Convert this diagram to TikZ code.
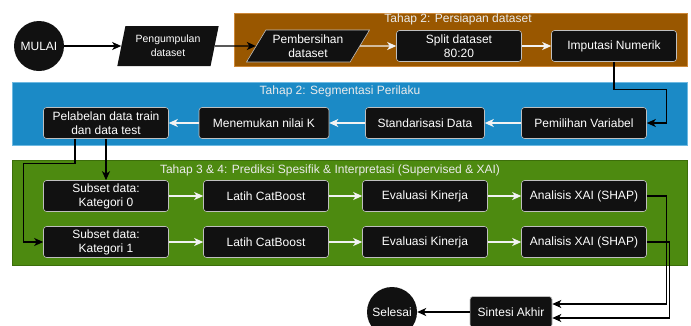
\documentclass[tikz,border=0pt]{standalone}
\usepackage{fontspec}
\setmainfont{Liberation Sans}
\usepackage{tikz}
\usetikzlibrary{arrows.meta,calc,positioning,shapes.geometric}
\definecolor{hitam}{RGB}{17,17,17}
\definecolor{coklat}{RGB}{153,87,0}
\definecolor{coklatgaris}{RGB}{205,135,55}
\definecolor{biru}{RGB}{27,138,198}
\definecolor{birugaris}{RGB}{110,185,225}
\definecolor{hijau}{RGB}{77,138,16}
\definecolor{hijaugaris}{RGB}{60,110,10}

\begin{document}
\begin{tikzpicture}[x=1pt,y=-1pt,
  proses/.style={draw=white!75!black, line width=0.6pt, fill=hitam, text=white,
    rounded corners=3pt, minimum width=125pt, minimum height=31pt, inner sep=2pt,
    align=center, font=\fontsize{12}{14}\selectfont},
  jajar/.style={trapezium, trapezium stretches=true, fill=hitam, text=white,
    align=center, inner sep=1pt},
  bulat/.style={circle, fill=hitam, text=white, minimum size=50pt, inner sep=0pt,
    font=\fontsize{12}{14}\selectfont},
  tahap/.style={text=white!92!black, font=\fontsize{12}{14}\selectfont},
  panah/.style={-{Stealth[length=9pt,width=8pt,inset=2.5pt]}, line width=1.3pt, draw=black},
  panahputih/.style={panah, draw=white!95!black}]
\pgfmathsetmacro{\lebar}{691}
\pgfmathsetmacro{\tinggi}{325}
\useasboundingbox (0,0) rectangle (\lebar,\tinggi);
\clip (0,0) rectangle (\lebar,\tinggi);

% latar tiap tahap
\draw[fill=coklat, draw=coklatgaris, line width=0.8pt] (234,13) rectangle (687,66);
\node[tahap] (judul1) at (458,19) {Tahap 2: Persiapan dataset};
\draw[fill=biru, draw=birugaris, line width=0.8pt] (12,82) rectangle (687,145);
\node[tahap] (judul2) at (340,91) {Tahap 2: Segmentasi Perilaku};
\draw[fill=hijau, draw=hijaugaris, line width=0.8pt] (12,160) rectangle (687,265);
\node[tahap] (judul3) at (330,170) {Tahap 3 \& 4: Prediksi Spesifik \& Interpretasi (Supervised \& XAI)};

% baris atas
\node[bulat] (mulai) at (39,46) {MULAI};
\node[jajar, trapezium left angle=75, trapezium right angle=105, minimum width=102pt,
  minimum height=40pt, font=\fontsize{10.5}{14}\selectfont] (kumpul) at (168,46) {Pengumpulan\\dataset};
\node[jajar, draw=white!75!black, line width=0.6pt, trapezium left angle=56, trapezium right angle=124,
  minimum width=123pt, minimum height=32pt, font=\fontsize{12}{14}\selectfont] (bersih) at (308,46) {Pembersihan\\dataset};
\node[proses] (split) at (459,46) {Split dataset\\80:20};
\node[proses] (imputasi) at (614,46) {Imputasi Numerik};

% baris segmentasi
\node[proses] (pemilihan) at (584,123) {Pemilihan Variabel};
\node[proses, minimum width=119pt] (standar) at (425,123) {Standarisasi Data};
\node[proses, minimum width=130pt] (nilaik) at (264,123) {Menemukan nilai K};
\node[proses] (label) at (106,123) {Pelabelan data train\\dan data test};

% baris prediksi
\foreach \k/\y in {0/196, 1/242} {
  \node[proses] (kat\k) at (106,\y) {Subset data:\\Kategori \k};
  \node[proses] (latih\k) at (266,\y) {Latih CatBoost};
  \node[proses] (eval\k) at (425,\y) {Evaluasi Kinerja};
  \node[proses] (xai\k) at (584,\y) {Analisis XAI (SHAP)};
  \draw[panahputih] (kat\k) -- (latih\k);
  \draw[panahputih] (latih\k) -- (eval\k);
  \draw[panahputih] (eval\k) -- (xai\k);
}

% penutup
\node[proses, minimum width=82pt] (sintesi) at (511,312) {Sintesi Akhir};
\node[bulat] (selesai) at (392,312) {Selesai};

% penghubung
\draw[panah] (mulai) -- (kumpul);
\draw[panah] (kumpul) -- (bersih);
\draw[panahputih] (bersih) -- (split);
\draw[panahputih] (split) -- (imputasi);
\draw[panah] (imputasi.south) -- ++(0,28) -| ($(pemilihan.east)+(20,0)$) -- (pemilihan.east);
\draw[panahputih] (pemilihan) -- (standar);
\draw[panahputih] (standar) -- (nilaik);
\draw[panahputih] (nilaik) -- (label);
\draw[panah] (label.south) -- (kat0.north);
\draw[panah] ([xshift=-31pt]label.south) -- ++(0,25) -| ($(kat1.west)+(-20,0)$) -- (kat1.west);
\draw[panah] (xai0.east) -- ++(20,0) |- ([yshift=8pt]sintesi.east);
\draw[panah] (xai1.east) -- ++(23,0) |- ([yshift=-6pt]sintesi.east);
\draw[panah] (sintesi) -- (selesai);
\end{tikzpicture}
\end{document}
